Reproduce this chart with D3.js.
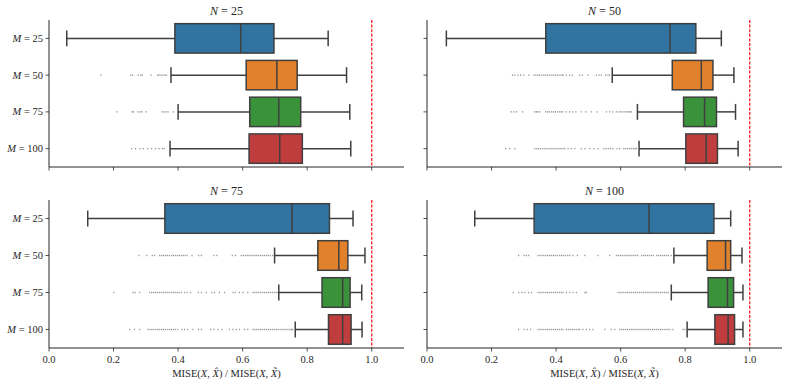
<!DOCTYPE html>
<html>
<head>
<meta charset="utf-8">
<script src="https://cdn.jsdelivr.net/npm/d3@7"></script>
<style>
  body { margin: 0; background: #fff; }
  svg { display: block; }
  text { font-family: "Liberation Serif", "DejaVu Serif", serif; fill: #262626; }
</style>
</head>
<body>
<div id="chart"></div>
<script>
// panels (N) and rows (M)
var nValues = [25, 50, 75, 100];
var mValues = [25, 50, 75, 100];
var xTicks = [0.0, 0.2, 0.4, 0.6, 0.8, 1.0];
var colors = ["#3274a1", "#e1812c", "#3a923a", "#c03d3e"];

// five-number stats per row: [whisker low, q1, median, q3, whisker high]
var statsN25 = [
	[0.055, 0.390, 0.594, 0.697, 0.865],
	[0.378, 0.611, 0.706, 0.769, 0.922],
	[0.400, 0.622, 0.712, 0.780, 0.932],
	[0.375, 0.620, 0.715, 0.785, 0.935]
];
var statsN50 = [
	[0.060, 0.368, 0.753, 0.833, 0.912],
	[0.574, 0.760, 0.850, 0.886, 0.951],
	[0.652, 0.795, 0.860, 0.897, 0.956],
	[0.657, 0.802, 0.865, 0.900, 0.964]
];
var statsN75 = [
	[0.120, 0.359, 0.753, 0.869, 0.942],
	[0.699, 0.833, 0.898, 0.926, 0.979],
	[0.712, 0.846, 0.910, 0.933, 0.969],
	[0.763, 0.866, 0.910, 0.936, 0.970]
];
var statsN100 = [
	[0.148, 0.332, 0.688, 0.889, 0.941],
	[0.765, 0.868, 0.925, 0.941, 0.976],
	[0.757, 0.871, 0.931, 0.950, 0.979],
	[0.806, 0.892, 0.933, 0.953, 0.979]
];

// outliers (M = 25 has none)
var fliersN25 = [
	[],
	[0.161, 0.253, 0.259, 0.276, 0.284, 0.289, 0.316, 0.337, 0.341, 0.347, 0.353, 0.359, 0.364],
	[0.210, 0.258, 0.261, 0.275, 0.282, 0.287, 0.301, 0.351, 0.357, 0.363, 0.369, 0.385],
	[0.256, 0.268, 0.282, 0.292, 0.306, 0.318, 0.330, 0.341, 0.351, 0.357]
];
var fliersN50 = [
	[],
	[0.265, 0.272, 0.282, 0.290, 0.300, 0.316, 0.331, 0.337, 0.343, 0.349, 0.356, 0.362, 0.368, 0.374, 0.381, 0.387, 0.393, 0.399, 0.405, 0.412, 0.418, 0.422, 0.432, 0.442, 0.450, 0.473, 0.481, 0.499, 0.525, 0.533, 0.540, 0.554, 0.561, 0.566],
	[0.261, 0.269, 0.277, 0.296, 0.334, 0.339, 0.344, 0.349, 0.368, 0.374, 0.379, 0.386, 0.392, 0.398, 0.405, 0.411, 0.416, 0.421, 0.432, 0.442, 0.451, 0.461, 0.478, 0.492, 0.509, 0.527, 0.556, 0.566, 0.576, 0.587, 0.595, 0.601, 0.607, 0.613, 0.619, 0.625, 0.629, 0.633],
	[0.244, 0.256, 0.272, 0.334, 0.340, 0.346, 0.352, 0.359, 0.365, 0.371, 0.378, 0.384, 0.390, 0.397, 0.403, 0.409, 0.415, 0.421, 0.427, 0.437, 0.447, 0.458, 0.478, 0.489, 0.504, 0.517, 0.530, 0.548, 0.555, 0.562, 0.569, 0.576, 0.589, 0.597, 0.610, 0.616, 0.622, 0.628, 0.634, 0.640, 0.645, 0.649]
];
var fliersN75 = [
	[],
	[0.279, 0.303, 0.320, 0.327, 0.343, 0.349, 0.355, 0.361, 0.367, 0.373, 0.380, 0.386, 0.392, 0.398, 0.404, 0.410, 0.416, 0.422, 0.428, 0.443, 0.464, 0.472, 0.511, 0.520, 0.568, 0.578, 0.596, 0.602, 0.608, 0.614, 0.620, 0.626, 0.632, 0.638, 0.644, 0.650, 0.656, 0.662, 0.668, 0.674, 0.680, 0.686, 0.693],
	[0.201, 0.260, 0.267, 0.281, 0.312, 0.318, 0.324, 0.330, 0.336, 0.342, 0.348, 0.354, 0.360, 0.366, 0.372, 0.379, 0.385, 0.391, 0.397, 0.403, 0.410, 0.420, 0.428, 0.439, 0.463, 0.472, 0.487, 0.505, 0.513, 0.528, 0.544, 0.570, 0.577, 0.590, 0.601, 0.616, 0.632, 0.638, 0.644, 0.650, 0.656, 0.662, 0.668, 0.674, 0.680, 0.686, 0.692, 0.698, 0.704, 0.709],
	[0.250, 0.265, 0.281, 0.307, 0.313, 0.319, 0.325, 0.331, 0.337, 0.343, 0.349, 0.355, 0.361, 0.368, 0.374, 0.380, 0.386, 0.392, 0.399, 0.412, 0.420, 0.430, 0.446, 0.463, 0.472, 0.501, 0.511, 0.523, 0.536, 0.559, 0.570, 0.580, 0.590, 0.606, 0.616, 0.632, 0.638, 0.644, 0.650, 0.656, 0.662, 0.668, 0.674, 0.680, 0.686, 0.692, 0.698, 0.704, 0.710, 0.716, 0.722, 0.728, 0.734, 0.740, 0.746, 0.751, 0.755]
];
var fliersN100 = [
	[],
	[0.284, 0.301, 0.308, 0.315, 0.344, 0.350, 0.356, 0.362, 0.368, 0.374, 0.380, 0.386, 0.392, 0.398, 0.404, 0.411, 0.417, 0.423, 0.429, 0.436, 0.442, 0.452, 0.466, 0.489, 0.530, 0.566, 0.587, 0.593, 0.599, 0.605, 0.611, 0.617, 0.623, 0.629, 0.635, 0.641, 0.647, 0.653, 0.665, 0.671, 0.677, 0.683, 0.689, 0.695, 0.701, 0.712, 0.718, 0.724, 0.730, 0.736, 0.742, 0.748, 0.757],
	[0.267, 0.284, 0.294, 0.303, 0.315, 0.324, 0.344, 0.350, 0.356, 0.362, 0.368, 0.374, 0.380, 0.386, 0.392, 0.398, 0.404, 0.410, 0.416, 0.421, 0.432, 0.442, 0.452, 0.463, 0.489, 0.494, 0.592, 0.598, 0.604, 0.610, 0.616, 0.622, 0.628, 0.634, 0.640, 0.646, 0.652, 0.658, 0.664, 0.670, 0.676, 0.682, 0.688, 0.694, 0.700, 0.706, 0.712, 0.718, 0.724, 0.730, 0.736, 0.742, 0.747],
	[0.284, 0.301, 0.311, 0.321, 0.344, 0.350, 0.356, 0.362, 0.368, 0.374, 0.380, 0.386, 0.392, 0.398, 0.404, 0.410, 0.416, 0.421, 0.432, 0.438, 0.444, 0.450, 0.456, 0.462, 0.468, 0.473, 0.483, 0.494, 0.504, 0.514, 0.551, 0.571, 0.582, 0.597, 0.603, 0.609, 0.615, 0.621, 0.627, 0.633, 0.639, 0.645, 0.651, 0.657, 0.663, 0.669, 0.675, 0.681, 0.687, 0.693, 0.699, 0.705, 0.711, 0.717, 0.723, 0.729, 0.735, 0.741, 0.747, 0.753, 0.762, 0.793, 0.799]
];

var allStats = [statsN25, statsN50, statsN75, statsN100];
var allFliers = [fliersN25, fliersN50, fliersN75, fliersN100];

var W = 789, H = 385;
var lineColor = "#3f3f3f";
var axisColor = "#262626";

// panel frames: left/right columns, top/bottom rows
var cols = [{x0: 49, x1: 404}, {x0: 427, x1: 782}];
var rows = [{y0: 20, y1: 167}, {y0: 200, y1: 348}];

var svg = d3.select("#chart").append("svg")
	.attr("width", W)
	.attr("height", H);

nValues.forEach(function (n, pi) {
	var col = cols[pi % 2], row = rows[Math.floor(pi / 2)];
	var isLeft = pi % 2 === 0, isBottom = pi >= 2;

	var x = d3.scaleLinear().domain([0, 1.1]).range([col.x0, col.x1]);
	var y = d3.scaleBand().domain(mValues).range([row.y0, row.y1]).paddingInner(0.2).paddingOuter(0.1);
	var bw = y.bandwidth();
	var yc = function (m) { return y(m) + bw / 2; };

	var g = svg.append("g");

	// title
	var title = g.append("text")
		.attr("x", (col.x0 + col.x1) / 2)
		.attr("y", row.y0 - 5)
		.attr("text-anchor", "middle")
		.attr("font-size", 12);
	title.append("tspan").attr("font-style", "italic").text("N");
	title.append("tspan").text(" = " + n);

	// reference line at 1.0
	g.append("line")
		.attr("x1", x(1)).attr("x2", x(1))
		.attr("y1", row.y0).attr("y2", row.y1)
		.attr("stroke", "#ff1a1a")
		.attr("stroke-width", 1.3)
		.attr("stroke-dasharray", "3,1.6");

	var stats = allStats[pi];
	var fliers = allFliers[pi];

	mValues.forEach(function (m, i) {
		var s = stats[i];
		var cy = yc(m);
		var bx = g.append("g");

		// fliers
		bx.selectAll("rect.flier")
			.data(fliers[i])
			.enter().append("rect")
			.attr("class", "flier")
			.attr("x", function (d) { return x(d) - 0.6; })
			.attr("y", cy - 0.7)
			.attr("width", 1.2)
			.attr("height", 1.4)
			.attr("fill", "#7a7a7a")
			.attr("opacity", 0.8);

		// whiskers
		bx.append("line")
			.attr("x1", x(s[0])).attr("x2", x(s[1]))
			.attr("y1", cy).attr("y2", cy)
			.attr("stroke", lineColor).attr("stroke-width", 1.5);
		bx.append("line")
			.attr("x1", x(s[3])).attr("x2", x(s[4]))
			.attr("y1", cy).attr("y2", cy)
			.attr("stroke", lineColor).attr("stroke-width", 1.5);
		// caps
		[s[0], s[4]].forEach(function (v) {
			bx.append("line")
				.attr("x1", x(v)).attr("x2", x(v))
				.attr("y1", cy - bw * 0.27).attr("y2", cy + bw * 0.27)
				.attr("stroke", lineColor).attr("stroke-width", 1.5);
		});
		// box
		bx.append("rect")
			.attr("x", x(s[1]))
			.attr("y", y(m))
			.attr("width", x(s[3]) - x(s[1]))
			.attr("height", bw)
			.attr("fill", colors[i])
			.attr("stroke", lineColor)
			.attr("stroke-width", 1.5);
		// median
		bx.append("line")
			.attr("x1", x(s[2])).attr("x2", x(s[2]))
			.attr("y1", y(m)).attr("y2", y(m) + bw)
			.attr("stroke", lineColor).attr("stroke-width", 1.5);
	});

	// spines
	g.append("line")
		.attr("x1", col.x0).attr("x2", col.x0)
		.attr("y1", row.y0).attr("y2", row.y1)
		.attr("stroke", axisColor).attr("stroke-width", 1);
	g.append("line")
		.attr("x1", col.x0).attr("x2", col.x1)
		.attr("y1", row.y1).attr("y2", row.y1)
		.attr("stroke", axisColor).attr("stroke-width", 1);

	// x ticks
	xTicks.forEach(function (t) {
		g.append("line")
			.attr("x1", x(t)).attr("x2", x(t))
			.attr("y1", row.y1).attr("y2", row.y1 + 3.5)
			.attr("stroke", axisColor).attr("stroke-width", 0.8);
		if (isBottom) {
			g.append("text")
				.attr("x", x(t))
				.attr("y", row.y1 + 15)
				.attr("text-anchor", "middle")
				.attr("font-size", 10.5)
				.text(t.toFixed(1));
		}
	});

	// y ticks
	mValues.forEach(function (m) {
		g.append("line")
			.attr("x1", col.x0 - 3.5).attr("x2", col.x0)
			.attr("y1", yc(m)).attr("y2", yc(m))
			.attr("stroke", axisColor).attr("stroke-width", 0.8);
		if (isLeft) {
			var lbl = g.append("text")
				.attr("x", col.x0 - 6)
				.attr("y", yc(m) + 3.5)
				.attr("text-anchor", "end")
				.attr("font-size", 10.5);
			lbl.append("tspan").attr("font-style", "italic").text("M");
			lbl.append("tspan").text(" = " + m);
		}
	});

	// x label
	if (isBottom) {
		var xl = g.append("text")
			.attr("x", (col.x0 + col.x1) / 2)
			.attr("y", row.y1 + 29)
			.attr("text-anchor", "middle")
			.attr("font-size", 10.5);
		xl.append("tspan").text("MISE(");
		xl.append("tspan").attr("font-style", "italic").text("X");
		xl.append("tspan").text(", ");
		xl.append("tspan").attr("font-style", "italic").text("X\u0302");
		xl.append("tspan").text(")  /  MISE(");
		xl.append("tspan").attr("font-style", "italic").text("X");
		xl.append("tspan").text(", ");
		xl.append("tspan").attr("font-style", "italic").text("X\u0303");
		xl.append("tspan").text(")");
	}
});
</script>
</body>
</html>
